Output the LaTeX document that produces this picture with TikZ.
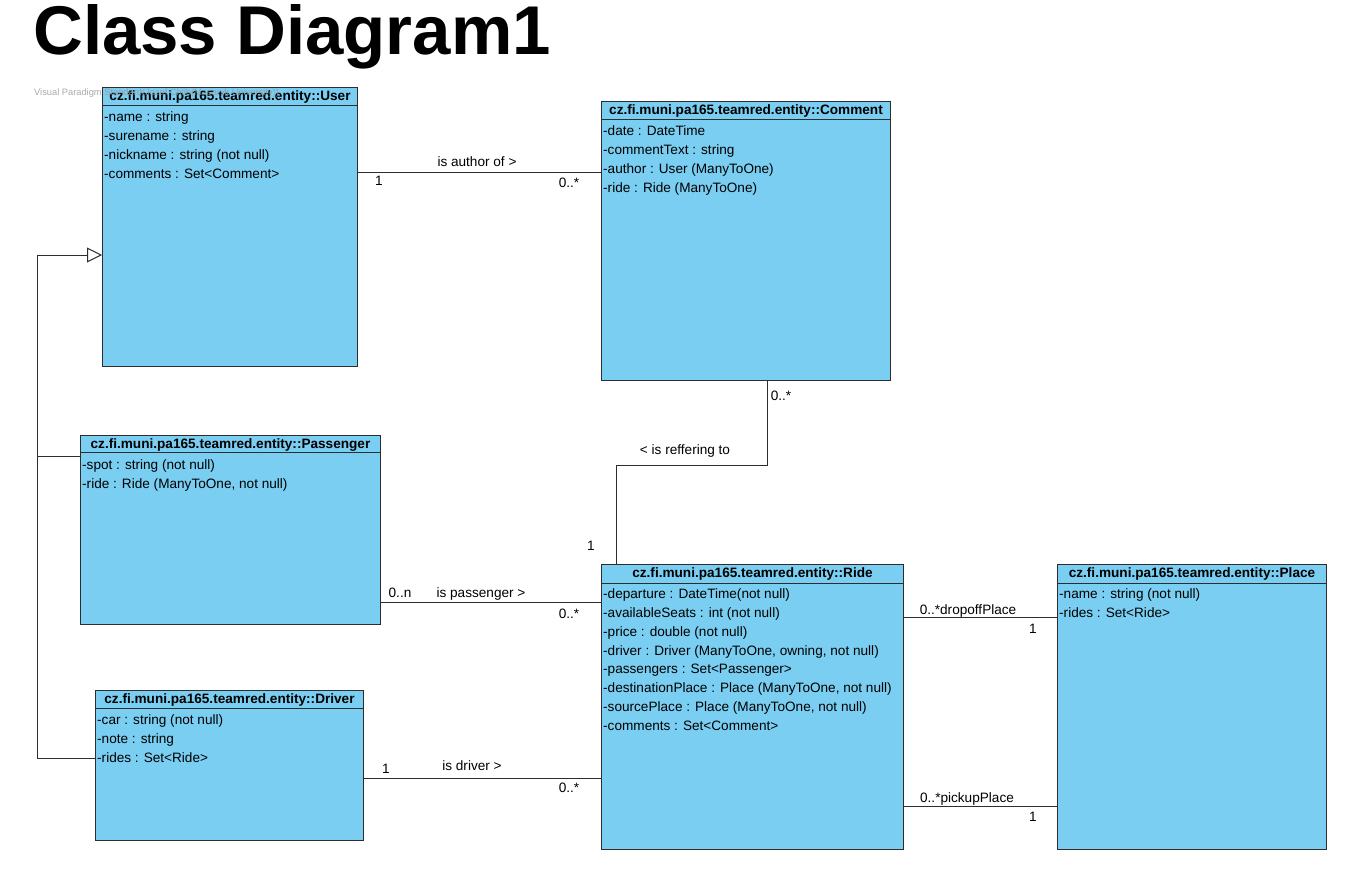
\documentclass[tikz,border=0pt]{standalone}
\usepackage{fontspec}
\setmainfont{Liberation Sans}
\usetikzlibrary{arrows.meta,calc}
\definecolor{clsfill}{RGB}{122,206,242}
\definecolor{clsdraw}{RGB}{45,45,45}
\definecolor{wmgray}{RGB}{150,150,150}
\newcommand\umlbox[8]{% name, x, y, w, h, header, title, attrs
  \node[cls, minimum width=#4pt, minimum height=#5pt, anchor=north west] (#1) at (#2,#3) {};
  \draw[conn] ([yshift=-#6pt]#1.north west) -- ([yshift=-#6pt]#1.north east);
  \node[clstitle, anchor=base] (#1-t) at ([yshift=-13.7pt]#1.north) {#7};
  \foreach \t [count=\i] in {#8}
    \node[attr, anchor=base west] (#1-a\i) at ([xshift=2pt, yshift={-34.7pt-(\i-1)*18.8pt}]#1.north west) {\t};
}
\begin{document}
\begin{tikzpicture}[x=1pt,y=-1pt,
  cls/.style={draw=clsdraw, fill=clsfill, line width=1pt, inner sep=0pt},
  conn/.style={draw=clsdraw, line width=1pt},
  clstitle/.style={font=\fontsize{13.6}{16}\selectfont\bfseries, inner sep=0pt},
  attr/.style={font=\fontsize{13.6}{16}\selectfont, inner sep=0pt},
  lbl/.style={font=\fontsize{13.6}{16}\selectfont, inner sep=0pt, text height=9.7pt, text depth=0pt, anchor=center},
  gen/.style={-{Triangle[length=15pt, width=15pt, fill=white, line width=1pt]}},
]
\useasboundingbox[fill=white] (0,0) rectangle (1356,883);

\node[font=\fontsize{69}{72}\selectfont\bfseries, inner sep=0pt, anchor=base west] (title) at (33,55) {Class Diagram1};

\umlbox{user}{102}{87}{255}{279}{18}{cz.fi.muni.pa165.teamred.entity::User}%
  {{-name : string},{-surename : string},{-nickname : string (not null)},{-comments : Set<Comment>}}
\umlbox{comment}{601}{101}{289}{279}{18}{cz.fi.muni.pa165.teamred.entity::Comment}%
  {{-date : DateTime},{-commentText : string},{-author : User (ManyToOne)},{-ride : Ride (ManyToOne)}}
\umlbox{passenger}{80}{435}{300}{189}{17}{cz.fi.muni.pa165.teamred.entity::Passenger}%
  {{-spot : string (not null)},{-ride : Ride (ManyToOne, not null)}}
\umlbox{driver}{95}{690}{268}{150}{18}{cz.fi.muni.pa165.teamred.entity::Driver}%
  {{-car : string (not null)},{-note : string},{-rides : Set<Ride>}}
\umlbox{ride}{601}{564}{302}{285}{19}{cz.fi.muni.pa165.teamred.entity::Ride}%
  {{-departure : DateTime(not null)},{-availableSeats : int (not null)},{-price : double (not null)},{-driver : Driver (ManyToOne, owning, not null)},{-passengers : Set<Passenger>},{-destinationPlace : Place (ManyToOne, not null)},{-sourcePlace : Place (ManyToOne, not null)},{-comments : Set<Comment>}}
\umlbox{place}{1057}{564}{269}{285}{19}{cz.fi.muni.pa165.teamred.entity::Place}%
  {{-name : string (not null)},{-rides : Set<Ride>}}

% generalization
\coordinate (gj) at (37,255);
\draw[conn, gen] ([yshift=-68pt]driver.north west) -| (gj) -- (user.west |- gj);
\draw[conn] ([yshift=-21pt]passenger.north west) -- ++(-43,0);

% associations
\draw[conn] ([yshift=-85pt]user.north east) -- ([yshift=-71pt]comment.north west);
\draw[conn] ([xshift=166pt]comment.south west) -- ++(0,84) -| ([xshift=15pt]ride.north west);
\draw[conn] ([yshift=-167pt]passenger.north east) -- ([yshift=-38pt]ride.north west);
\draw[conn] ([yshift=-88pt]driver.north east) -- ([yshift=-214pt]ride.north west);
\draw[conn] ([yshift=-53pt]ride.north east) -- ([yshift=-53pt]place.north west);
\draw[conn] ([yshift=-242pt]ride.north east) -- ([yshift=-242pt]place.north west);

% labels
\node[lbl] (l1) at (477,162) {is author of >};
\node[lbl] (l2) at (379,181) {1};
\node[lbl] (l3) at (569,183) {0..*};
\node[lbl] (l4) at (781,396) {0..*};
\node[lbl] (l5) at (685,450) {< is reffering to};
\node[lbl] (l6) at (591,546) {1};
\node[lbl] (l7) at (400,593) {0..n};
\node[lbl] (l8) at (481,593) {is passenger >};
\node[lbl] (l9) at (569,614) {0..*};
\node[lbl] (l10) at (386,769) {1};
\node[lbl] (l11) at (472,766) {is driver >};
\node[lbl] (l12) at (569,788) {0..*};
\node[lbl] (l13) at (968,610) {0..*dropoffPlace};
\node[lbl] (l14) at (1033,629) {1};
\node[lbl] (l15) at (967,798) {0..*pickupPlace};
\node[lbl] (l16) at (1033,817) {1};

% watermark
\node[font=\fontsize{9.3}{11}\selectfont, text=wmgray, opacity=0.8, inner sep=0pt, anchor=base west] (wm) at (34,95.5) {Visual Paradigm Standard(Jozef Chlib(Masaryk University))};
\end{tikzpicture}
\end{document}
